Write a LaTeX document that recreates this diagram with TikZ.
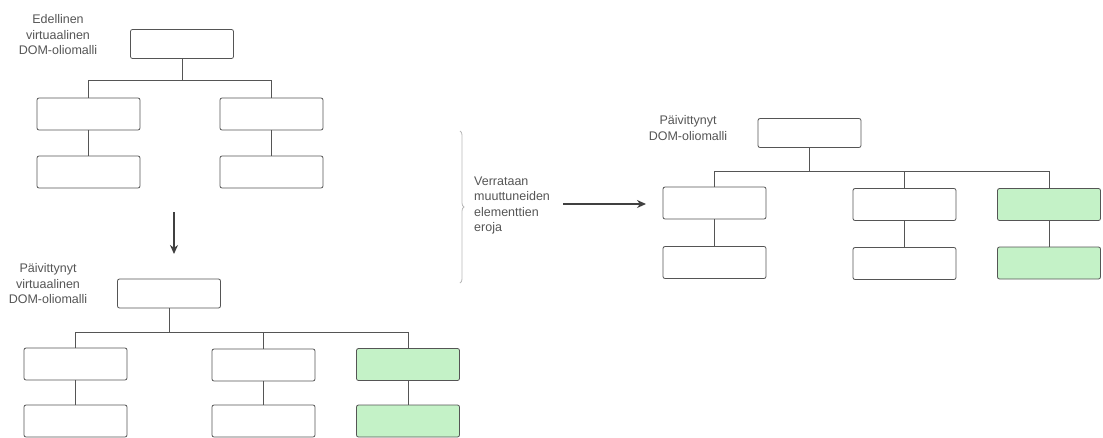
\documentclass[tikz,border=0pt]{standalone}
\usepackage{fontspec}
\setmainfont{Liberation Sans}
\usepackage{tikz}
\usetikzlibrary{arrows.meta,decorations.pathreplacing}
\definecolor{edge}{HTML}{555555}
\definecolor{label}{HTML}{555555}
\definecolor{changed}{HTML}{C4F2C7}

\begin{document}
\begin{tikzpicture}[x=1pt, y=-1pt,
	elem/.style={rectangle, draw=edge, line width=0.8pt, rounded corners=2pt, minimum width=103pt, minimum height=32pt, inner sep=0pt},
	root/.style={elem, minimum height=29pt},
	new/.style={fill=changed},
	caption/.style={text=label, font=\fontsize{12.5}{15.5}\selectfont, inner sep=0pt},
	link/.style={draw=edge, line width=0.8pt},
	flow/.style={draw=black!75, line width=1.8pt, -{Stealth[length=9pt,width=8pt]}}]
	\useasboundingbox (0,0) rectangle (1103,437);

	% previous virtual DOM
	\node[caption, align=center] at (58,35) (prevlbl) {Edellinen\\virtuaalinen\\DOM-oliomalli};
	\node[root] at (182,44) (p0) {};
	\node[elem] at (88.5,114) (p1) {};
	\node[elem] at (271.5,114) (p2) {};
	\node[elem] at (88.5,172) (p11) {};
	\node[elem] at (271.5,172) (p21) {};

	\draw[link] (p0.south) -- ++(0,21) -| (p1.north);
	\draw[link] (p0.south) -- ++(0,21) -| (p2.north);
	\draw[link] (p1) -- (p11);
	\draw[link] (p2) -- (p21);

	\coordinate (down1) at (174,212);
	\coordinate (down2) at (174,254);
	\draw[flow] (down1) -- (down2);

	% updated virtual DOM
	\node[caption, align=center] at (48,284) (vlbl) {Päivittynyt\\virtuaalinen\\DOM-oliomalli};
	\node[root] at (169,293.5) (v0) {};
	\node[elem] at (75.5,364) (v1) {};
	\node[elem] at (263.5,365) (v2) {};
	\node[elem, new] at (408,364.5) (v3) {};
	\node[elem] at (75.5,421) (v11) {};
	\node[elem] at (263.5,421) (v21) {};
	\node[elem, new] at (408,421) (v31) {};

	\draw[link] (v0.south) -- ++(0,24) -| (v1.north);
	\draw[link] (v0.south) -- ++(0,24) -| (v2.north);
	\draw[link] (v0.south) -- ++(0,24) -| (v3.north);
	\draw[link] (v1) -- (v11);
	\draw[link] (v2) -- (v21);
	\draw[link] (v3) -- (v31);

	% diffing step
	\coordinate (bt) at (460,131);
	\coordinate (bb) at (460,283);
	\draw[draw=black!28, line width=0.8pt, decorate, decoration={brace, amplitude=4pt}] (bt) -- (bb);
	\node[caption, align=left, anchor=west] at (474,205.5) (cmp) {Verrataan\\muuttuneiden\\elementtien\\eroja};
	\coordinate (cmpout) at (563,204);
	\coordinate (cmpin) at (646,204);
	\draw[flow] (cmpout) -- (cmpin);

	% updated DOM
	\node[caption, align=center] at (688,128) (dlbl) {Päivittynyt\\DOM-oliomalli};
	\node[root] at (809.5,133) (d0) {};
	\node[elem] at (714.5,203) (d1) {};
	\node[elem] at (904.5,204.5) (d2) {};
	\node[elem, new] at (1049,204.5) (d3) {};
	\node[elem] at (714.5,262.5) (d11) {};
	\node[elem] at (904.5,263.5) (d21) {};
	\node[elem, new] at (1049,263) (d31) {};

	\draw[link] (d0.south) -- ++(0,23) -| (d1.north);
	\draw[link] (d0.south) -- ++(0,23) -| (d2.north);
	\draw[link] (d0.south) -- ++(0,23) -| (d3.north);
	\draw[link] (d1) -- (d11);
	\draw[link] (d2) -- (d21);
	\draw[link] (d3) -- (d31);
\end{tikzpicture}
\end{document}
